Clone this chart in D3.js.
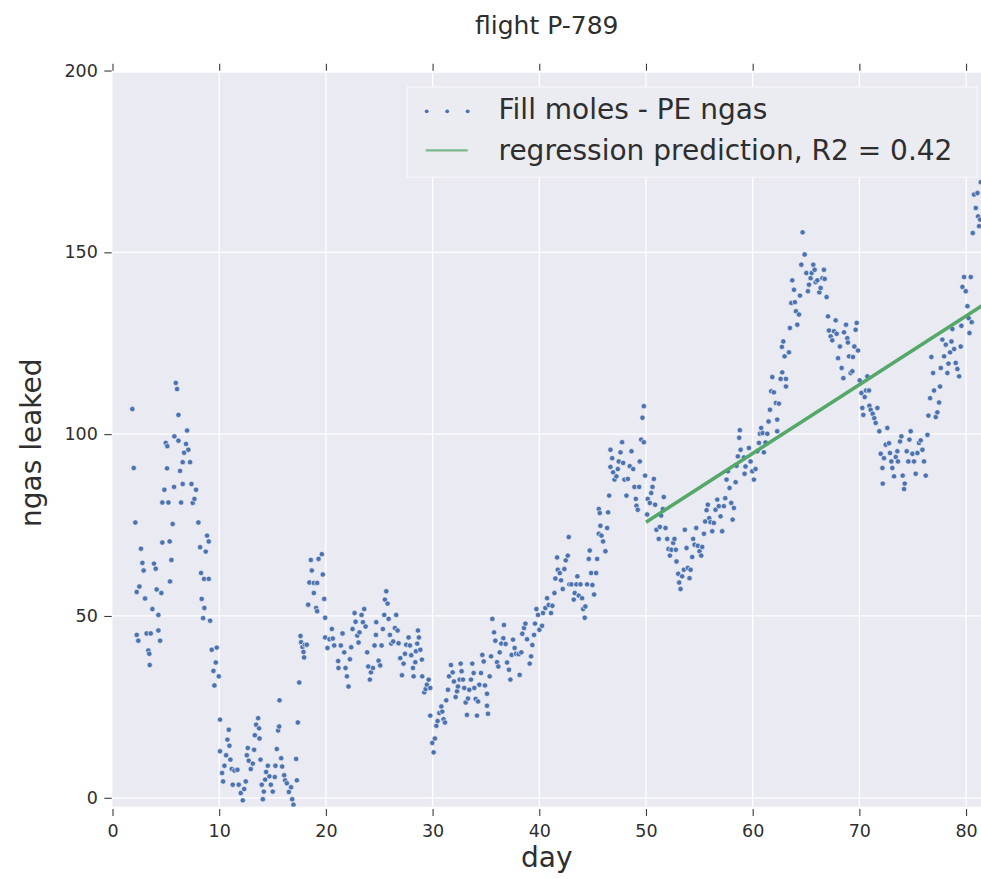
<!DOCTYPE html>
<html>
<head>
<meta charset="utf-8">
<script src="https://cdn.jsdelivr.net/npm/d3@7"></script>
<style>
  html, body { margin: 0; padding: 0; background: #ffffff; }
  svg { display: block; font-family: "DejaVu Sans", sans-serif; }
</style>
</head>
<body>
<svg id="chart" width="981" height="879"></svg>
<script>
// ---- data -------------------------------------------------------------
const chartTitle = "flight P-789";
const xLabel = "day";
const yLabel = "ngas leaked";
const seriesNames = ["Fill moles - PE ngas", "regression prediction, R2 = 0.42"];

const xTicks = [0, 10, 20, 30, 40, 50, 60, 70, 80];
const yTicks = [0, 50, 100, 150, 200];
const xDomain = [0, 81.4];
const yDomain = [-2.45, 199.4];

// regression fit over the later part of the flight
const regressionDays = [50, 81.5];
const regressionValues = [75.8, 135.3];

// [day, ngas leaked]
const leakDays0to20 = [
  [1.86,106.9],[1.99,90.7],[2.14,75.7],[2.27,56.6],[2.27,44.8],[2.42,43.2],[2.52,58.1],[2.67,68.5],[2.80,64.6],[2.92,62.5],
  [3.05,54.8],[3.20,45.2],[3.36,40.5],[3.45,39.6],[3.49,36.5],[3.58,45.2],[3.74,51.9],[3.89,64.4],[4.05,63.0],[4.14,57.3],
  [4.30,50.3],[4.30,46.0],[4.46,43.2],[4.58,56.3],[4.67,70.2],[4.67,81.2],[4.86,84.7],[4.99,97.6],[5.14,96.7],[5.11,90.6],
  [5.24,81.2],[5.36,70.5],[5.39,59.5],[5.52,65.4],[5.64,75.3],[5.77,85.5],[5.80,99.4],[5.93,114.1],[6.05,112.4],[6.18,105.3],
  [6.18,98.2],[6.33,89.9],[6.43,81.2],[6.58,92.3],[6.58,86.3],[6.71,94.9],[6.89,97.3],[6.99,101.0],[7.11,95.7],[7.27,92.3],
  [7.40,86.3],[7.52,81.1],[7.68,82.2],[7.83,84.7],[8.05,75.7],[8.21,68.9],[8.30,61.8],[8.36,54.7],[8.58,60.2],[8.61,52.2],
  [8.49,49.4],[8.74,67.7],[8.86,72.1],[9.02,70.5],[9.02,60.2],[9.15,48.7],[9.30,40.7],[9.46,34.9],[9.55,30.9],[9.68,37.2],
  [9.77,41.3],[9.96,33.4],[10.08,21.5],[10.08,12.8],[10.27,6.8],[10.37,4.5],[10.49,8.8],[10.65,11.7],[10.77,16.0],[10.90,18.7],
  [10.96,14.3],[11.05,10.5],[11.18,7.9],[11.27,3.6],[11.43,7.5],[11.71,7.7],[11.83,3.6],[12.02,1.3],[12.21,-0.7],[12.34,2.4],
  [12.49,4.5],[12.59,11.7],[12.68,13.7],[12.77,10.2],[12.96,7.9],[13.15,9.4],[13.27,13.2],[13.34,17.2],[13.46,20.1],[13.65,21.9],
  [13.74,19.1],[13.78,16.3],[13.87,10.5],[13.99,3.6],[14.09,-0.4],[14.18,1.7],[14.31,5.0],[14.40,7.1],[14.56,8.8],[14.71,5.9],
  [14.84,3.6],[15.02,1.7],[15.21,5.7],[15.27,8.8],[15.40,13.4],[15.52,18.5],[15.62,19.6],[15.65,26.8],[15.81,10.9],[15.90,8.6],
  [16.09,6.2],[16.18,4.8],[16.34,4.0],[16.53,1.6],[16.74,2.9],[16.84,-0.4],[16.96,-1.9],[17.21,10.7],[17.28,4.8],[17.37,20.7],
  [17.50,31.7],[17.62,44.5],[17.68,42.8],[17.81,41.5],[17.90,40.1],[17.96,38.6],[18.03,42.1],[18.21,42.1],[18.34,53.1],[18.46,59.2],
  [18.59,65.4],[18.68,62.5],[18.87,56.3],[18.87,59.1],[19.09,52.2],[19.18,59.1],[19.18,51.3],[19.31,65.7]
];

const leakDays20to40 = [
  [19.62,67.0],[19.71,61.4],[19.84,54.7],[19.93,49.5],[19.93,44.1],[20.15,41.2],[20.34,43.6],[20.56,46.4],[20.65,43.8],[20.78,41.9],
  [21.15,37.6],[21.18,35.7],[21.40,41.9],[21.56,45.2],[21.72,40.0],[21.84,35.7],[21.97,33.4],[22.12,30.6],[22.25,38.1],[22.37,41.4],
  [22.50,46.4],[22.69,50.8],[22.78,48.4],[22.94,44.6],[23.06,42.7],[23.15,45.5],[23.34,50.3],[23.47,48.3],[23.59,51.9],[23.72,47.1],
  [23.87,40.0],[23.97,36.1],[24.12,32.5],[24.22,34.5],[24.41,35.7],[24.56,41.9],[24.69,44.8],[24.72,48.3],[24.94,37.7],[25.09,36.4],
  [25.22,41.9],[25.34,46.4],[25.47,50.3],[25.53,54.5],[25.66,56.8],[25.78,53.4],[25.88,49.2],[26.00,44.8],[26.13,42.4],[26.31,43.0],
  [26.47,46.7],[26.59,50.3],[26.72,46.0],[26.81,42.5],[26.97,38.4],[27.13,33.7],[27.28,36.9],[27.41,39.6],[27.53,42.1],[27.75,44.1],
  [27.88,41.9],[28.00,39.2],[28.16,35.7],[28.22,33.4],[28.38,37.3],[28.44,40.3],[28.56,42.4],[28.63,46.0],[28.72,44.1],[28.85,40.7],
  [29.00,38.0],[29.03,33.4],[29.22,29.0],[29.35,29.9],[29.47,31.1],[29.63,32.5],[29.78,30.2],[29.78,22.6],[29.97,15.1],[30.10,12.5],
  [30.22,16.3],[30.35,19.8],[30.47,21.1],[30.63,23.3],[30.82,25.1],[30.91,23.7],[31.03,21.6],[31.16,20.7],[31.28,26.8],[31.44,29.7],
  [31.54,33.4],[31.72,36.5],[31.88,34.5],[32.00,32.0],[32.16,27.7],[32.29,29.3],[32.38,30.6],[32.54,32.5],[32.63,36.9],[32.72,34.8],
  [32.85,32.5],[32.97,30.2],[33.10,26.2],[33.22,22.8],[33.32,27.3],[33.44,29.7],[33.60,32.5],[33.72,36.9],[33.85,34.3],[33.91,30.2],
  [34.04,27.2],[34.16,22.6],[34.26,26.5],[34.38,31.1],[34.54,34.3],[34.66,39.3],[34.79,37.5],[34.91,30.9],[35.10,28.6],[35.10,25.3],
  [35.19,23.1],[35.35,33.4],[35.48,38.9],[35.60,49.2],[35.76,45.5],[35.88,43.2],[36.04,37.3],[36.16,36.1],[36.29,40.0],[36.44,42.4],
  [36.63,43.9],[36.69,47.5],[36.85,42.3],[36.98,37.2],[37.16,35.2],[37.29,32.5],[37.41,39.3],[37.54,43.5],[37.69,41.2],[37.82,39.6],
  [38.07,39.5],[38.16,33.8],[38.32,40.0],[38.41,45.1],[38.57,46.7],[38.70,47.9],[38.85,43.6],[39.10,36.9],[39.23,38.9],[39.35,42.0],
  [39.51,44.8],[39.60,47.9],[39.73,51.9],[39.88,50.3],[40.01,46.2]
];

const leakDays40to59 = [
  [40.26,47.3],[40.35,50.8],[40.57,52.2],[40.73,54.9],[40.88,53.0],[41.10,50.8],[41.23,52.8],[41.42,56.3],[41.51,60.3],[41.67,66.1],
  [41.73,62.7],[41.92,61.8],[42.04,59.8],[42.20,57.4],[42.35,62.9],[42.48,65.3],[42.67,66.6],[42.76,71.7],[42.82,58.7],[43.01,58.7],
  [43.23,54.5],[43.32,56.3],[43.48,58.7],[43.57,60.9],[43.70,55.6],[43.86,58.7],[44.01,54.9],[44.11,51.9],[44.26,49.5],[44.32,52.6],
  [44.48,58.7],[44.64,65.7],[44.73,68.0],[44.86,61.8],[44.98,58.5],[45.14,55.9],[45.33,61.8],[45.42,65.7],[45.58,72.6],[45.58,79.4],
  [45.67,78.3],[45.73,74.8],[45.83,72.1],[45.98,70.5],[46.20,67.8],[46.36,74.2],[46.45,78.5],[46.55,83.1],[46.67,91.0],[46.83,93.4],
  [46.67,95.7],[46.92,89.5],[47.05,87.5],[47.23,88.4],[47.36,90.4],[47.45,92.5],[47.61,95.0],[47.76,97.8],[47.86,92.1],[47.98,87.5],
  [48.17,83.1],[48.30,87.7],[48.48,91.2],[48.64,95.3],[48.80,90.4],[48.92,85.5],[49.05,82.2],[49.11,80.3],[49.23,79.2],[49.36,85.5],
  [49.42,92.5],[49.55,98.5],[49.67,104.5],[49.80,107.7],[49.80,97.8],[49.92,88.6],[50.11,77.9],[50.17,82.2],[50.36,81.1],[50.49,83.8],
  [50.61,85.5],[50.74,87.7],[50.86,80.6],[50.98,73.7],[51.20,71.2],[51.30,74.5],[51.42,77.6],[51.58,79.4],[51.67,82.7],[51.83,74.2],
  [51.99,71.2],[52.11,68.4],[52.24,66.6],[52.39,68.2],[52.55,70.1],[52.67,71.2],[52.80,68.2],[52.86,65.0],[53.02,61.6],[53.11,59.2],
  [53.24,57.4],[53.39,60.9],[53.55,62.7],[53.64,73.7],[53.80,68.7],[53.92,63.2],[54.08,60.4],[54.18,62.7],[54.33,66.2],[54.42,71.2],
  [54.55,69.6],[54.71,74.2],[54.86,69.3],[55.02,67.8],[55.18,66.6],[55.27,69.0],[55.43,72.6],[55.55,76.0],[55.68,79.1],[55.80,80.6],
  [55.93,76.9],[56.05,75.8],[56.21,73.3],[56.36,75.6],[56.52,79.2],[56.68,82.0],[56.83,80.2],[56.99,77.4],[57.14,73.3],[57.30,80.2],
  [57.43,82.4],[57.55,87.5],[57.68,89.8],[57.83,85.2],[57.99,81.1],[58.12,76.5],[58.24,79.7],[58.40,86.8],[58.49,91.3],[58.61,93.9],
  [58.74,99.0],[58.80,101.1]
];

const leakDays59to82 = [
  [58.87,95.7],[59.18,93.6],[59.33,91.1],[59.24,89.1],[59.65,96.2],[59.80,92.5],[59.96,89.8],[60.12,87.5],[60.27,90.4],[60.43,95.3],
  [60.59,97.6],[60.68,100.1],[60.80,101.7],[60.93,100.3],[61.05,95.0],[61.21,97.7],[61.37,100.1],[61.49,103.5],[61.62,106.7],[61.74,111.8],
  [61.84,115.7],[61.99,111.5],[62.18,108.6],[62.30,104.0],[62.30,100.8],[62.46,108.4],[62.62,115.2],[62.77,117.0],[62.87,125.5],[62.74,124.0],
  [62.99,121.4],[63.12,115.2],[63.12,113.1],[63.40,122.5],[63.49,129.2],[63.62,136.1],[63.71,142.3],[63.87,139.7],[63.96,136.3],[64.06,133.8],
  [64.18,130.1],[64.34,132.9],[64.43,138.1],[64.56,146.6],[64.68,155.5],[64.87,149.4],[65.03,144.3],[65.18,139.3],[65.28,141.1],[65.43,142.9],
  [65.53,144.3],[65.68,146.6],[65.81,145.2],[65.90,141.8],[66.06,142.3],[66.25,139.0],[66.37,140.2],[66.53,142.9],[66.68,145.2],[66.75,142.7],
  [66.93,137.7],[67.06,132.4],[67.15,128.5],[67.31,126.9],[67.46,125.8],[67.62,128.3],[67.78,131.3],[67.87,127.6],[68.00,120.9],[68.18,124.1],
  [68.34,118.2],[68.50,115.4],[68.56,128.0],[68.75,130.1],[68.87,126.4],[68.93,125.2],[69.03,121.4],[69.18,116.8],[69.34,117.3],[69.40,121.2],
  [69.53,124.1],[69.65,128.7],[69.75,130.6],[69.87,123.0],[70.03,114.8],[70.19,111.3],[70.28,107.2],[70.37,105.3],[70.50,110.2],[70.62,112.0],
  [70.75,115.9],[70.90,112.0],[70.94,107.8],[71.06,106.7],[71.25,105.6],[71.40,104.4],[71.53,103.1],[71.69,107.2],[71.87,100.8],[72.00,94.6],
  [72.16,90.7],[72.19,86.4],[72.31,93.4],[72.47,97.1],[72.62,101.7],[72.78,97.5],[72.87,94.8],[73.00,92.5],[73.09,90.7],[73.25,88.4],
  [73.41,93.7],[73.56,95.3],[73.62,92.5],[73.81,98.0],[73.94,99.4],[74.06,88.6],[74.19,84.9],[74.25,86.4],[74.44,95.3],[74.59,92.5],
  [74.69,98.5],[74.81,100.8],[74.97,94.6],[75.12,92.5],[75.28,89.1],[75.44,94.8],[75.59,97.6],[75.75,98.3],[75.91,95.7],[76.06,92.5],
  [76.22,88.6],[76.38,99.8],[76.47,105.1],[76.63,109.9],[76.75,121.2],[76.91,116.8],[77.00,112.0],[77.16,104.7],[77.31,106.0],[77.47,108.7],
  [77.56,113.1],[77.63,118.2],[77.78,126.0],[77.94,121.4],[78.10,124.6],[78.25,116.8],[78.35,119.4],[78.50,122.5],[78.63,125.5],[78.72,128.9],
  [78.88,123.4],[79.03,119.6],[79.19,117.9],[79.35,115.9],[79.50,124.1],[79.56,129.8],[79.66,140.5],[79.81,143.2],[79.97,139.3],[80.13,135.2],
  [80.25,131.9],[80.32,127.8],[80.44,143.2],[80.53,130.8],[80.63,155.3],[80.75,165.9],[80.91,162.2],[81.07,166.3],[81.13,159.9],[81.22,157.2],
  [81.32,159.0],[81.38,169.3]
];

const leakSamples = [].concat(leakDays0to20, leakDays20to40, leakDays40to59, leakDays59to82);

// ---- layout ----------------------------------------------------------
const plot = { left: 112.5, right: 981, top: 72.7, bottom: 806.7 };
const colors = {
  panel: "#EAEAF2", grid: "#ffffff", text: "#2e2e2e", tick: "#3a3a3a",
  points: "#4C72B0", regression: "#55A868"
};

const svg = d3.select("#chart");

const x = d3.scaleLinear().domain(xDomain).range([plot.left, plot.right]);
const y = d3.scaleLinear().domain(yDomain).range([plot.bottom, plot.top]);

// panel background
svg.append("rect")
  .attr("x", plot.left).attr("y", plot.top)
  .attr("width", plot.right - plot.left).attr("height", plot.bottom - plot.top)
  .attr("fill", colors.panel);

svg.append("clipPath").attr("id", "panel-clip")
  .append("rect")
  .attr("x", plot.left).attr("y", plot.top)
  .attr("width", plot.right - plot.left).attr("height", plot.bottom - plot.top);

// grid
const grid = svg.append("g").attr("clip-path", "url(#panel-clip)");
grid.selectAll("line.vx").data(xTicks.filter(d => d > xDomain[0]))
  .join("line").attr("class", "vx")
  .attr("x1", d => x(d)).attr("x2", d => x(d))
  .attr("y1", plot.top).attr("y2", plot.bottom)
  .attr("stroke", colors.grid).attr("stroke-width", 1.3);
grid.selectAll("line.hy").data(yTicks)
  .join("line").attr("class", "hy")
  .attr("y1", d => y(d)).attr("y2", d => y(d))
  .attr("x1", plot.left).attr("x2", plot.right)
  .attr("stroke", colors.grid).attr("stroke-width", 1.3);

// axes
function styleAxis(g) {
  g.select(".domain").remove();
  g.selectAll(".tick line").attr("stroke", colors.tick).attr("stroke-width", 1.1);
  g.selectAll(".tick text").attr("fill", colors.text)
    .style("font-family", "DejaVu Sans").style("font-size", "17.5px");
}

svg.append("g")
  .attr("transform", `translate(0,${plot.bottom + 2.3})`)
  .call(d3.axisBottom(x).tickValues(xTicks).tickFormat(d3.format("d")).tickSize(7).tickPadding(9))
  .call(styleAxis);

svg.append("g")
  .attr("transform", `translate(0,${plot.top - 2})`)
  .call(d3.axisTop(x).tickValues(xTicks).tickFormat("").tickSize(7))
  .call(styleAxis);

svg.append("g")
  .attr("transform", `translate(${plot.left - 0.8},0)`)
  .call(d3.axisLeft(y).tickValues(yTicks).tickFormat(d3.format("d")).tickSize(7.4).tickPadding(6.5))
  .call(styleAxis);

// scatter points
svg.append("g").attr("clip-path", "url(#panel-clip)")
  .selectAll("circle").data(leakSamples)
  .join("circle")
  .attr("cx", d => x(d[0]))
  .attr("cy", d => y(d[1]))
  .attr("r", 2.7)
  .attr("fill", colors.points)
  .attr("stroke", "#ffffff")
  .attr("stroke-width", 0.6);

// regression line
const regLine = d3.line().x(d => x(d[0])).y(d => y(d[1]));
svg.append("path")
  .attr("clip-path", "url(#panel-clip)")
  .datum(regressionDays.map((d, i) => [d, regressionValues[i]]))
  .attr("d", regLine)
  .attr("fill", "none")
  .attr("stroke", colors.regression)
  .attr("stroke-width", 3.6);

// legend
const legend = svg.append("g");
legend.append("rect")
  .attr("x", 407.3).attr("y", 87)
  .attr("width", 570).attr("height", 90.3)
  .attr("fill", "#EBEBF2")
  .attr("stroke", "#F7F7FA")
  .attr("stroke-width", 1.2);
legend.selectAll("circle").data([426.7, 447.2, 467.7])
  .join("circle")
  .attr("cx", d => d).attr("cy", 111.3).attr("r", 1.9)
  .attr("fill", colors.points);
legend.append("line")
  .attr("x1", 425.7).attr("x2", 467.7)
  .attr("y1", 150.3).attr("y2", 150.3)
  .attr("stroke", colors.regression).attr("stroke-opacity", 0.75)
  .attr("stroke-width", 2.2);
legend.selectAll("text").data(seriesNames)
  .join("text")
  .attr("x", 498.5)
  .attr("y", (d, i) => i === 0 ? 118.7 : 159.7)
  .attr("fill", colors.text)
  .style("font-size", "28px")
  .text(d => d);

// title and axis labels
svg.append("text")
  .attr("x", (plot.left + plot.right) / 2).attr("y", 34.3)
  .attr("text-anchor", "middle").attr("fill", colors.text)
  .style("font-size", "25px")
  .text(chartTitle);

svg.append("text")
  .attr("x", (plot.left + plot.right) / 2).attr("y", 867)
  .attr("text-anchor", "middle").attr("fill", colors.text)
  .style("font-size", "28px")
  .text(xLabel);

svg.append("text")
  .attr("transform", `translate(41,${(plot.top + plot.bottom) / 2 + 3}) rotate(-90)`)
  .attr("text-anchor", "middle").attr("fill", colors.text)
  .style("font-size", "28px")
  .text(yLabel);
</script>
</body>
</html>
